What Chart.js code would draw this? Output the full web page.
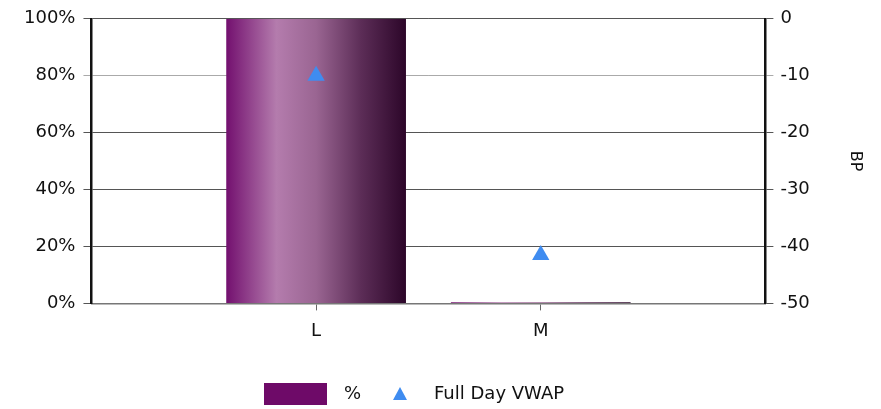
<!DOCTYPE html>
<html lang="en">
<head>
    <meta charset="UTF-8">
    <title>L / M - Full Day VWAP</title>
    <script src="https://cdn.jsdelivr.net/npm/chart.js"></script>
    <style>
        html, body {
            margin: 0;
            padding: 0;
            background: #fff;
        }
        #wrap {
            width: 881px;
            height: 409px;
        }
    </style>
</head>
<body>
    <div id="wrap"><canvas id="chart"></canvas></div>
    <script>
    // categories ('' pads the ends so L and M sit at 1/3 and 2/3)
    const categories = ['', 'L', 'M', ''];
    const pctValues = [null, 100, 0.4, null];
    const vwapValues = [null, -10, -41.5, null];
    const leftTicks = [0, 20, 40, 60, 80, 100];
    const rightTicks = [-50, -40, -30, -20, -10, 0];

    const FONT = "'DejaVu Sans', sans-serif";
    const BAR_SOLID = '#6e0a68';
    const TRI_BLUE = '#3f8cf0';
    const BAR_PCT = 0.8;

    function barGradient(context) {
        const chart = context.chart;
        const xs = chart.scales.x;
        if (!chart.chartArea || !xs) return BAR_SOLID;
        const step = xs.getPixelForValue(1) - xs.getPixelForValue(0);
        const w = step * BAR_PCT;
        const x0 = xs.getPixelForValue(context.dataIndex) - w / 2;
        const g = chart.ctx.createLinearGradient(x0, 0, x0 + w, 0);
        g.addColorStop(0, '#73106f');
        g.addColorStop(0.28, '#b47cad');
        g.addColorStop(0.5, '#9a6592');
        g.addColorStop(0.75, '#5c2d57');
        g.addColorStop(1, '#2c0629');
        return g;
    }

    // simple bottom legend: box for the bar, triangle for the points
    const bottomLegend = {
        id: 'bottomLegend',
        afterDraw(chart) {
            const ctx = chart.ctx;
            const y = 394;
            ctx.save();
            ctx.fillStyle = BAR_SOLID;
            ctx.fillRect(264, 383, 63, 22);
            ctx.font = '18px ' + FONT;
            ctx.fillStyle = '#111';
            ctx.textBaseline = 'middle';
            ctx.fillText(chart.data.datasets[0].label, 344, y);
            ctx.fillStyle = TRI_BLUE;
            ctx.beginPath();
            ctx.moveTo(400, y - 7);
            ctx.lineTo(407, y + 6);
            ctx.lineTo(393, y + 6);
            ctx.closePath();
            ctx.fill();
            ctx.fillStyle = '#111';
            ctx.fillText(chart.data.datasets[1].label, 434, y);
            ctx.restore();
        }
    };

    new Chart(document.getElementById('chart'), {
        data: {
            labels: categories,
            datasets: [
                {
                    type: 'bar',
                    label: '%',
                    data: pctValues,
                    yAxisID: 'y',
                    backgroundColor: barGradient,
                    borderWidth: 0,
                    categoryPercentage: 1,
                    barPercentage: BAR_PCT,
                    order: 2
                },
                {
                    type: 'line',
                    label: 'Full Day VWAP',
                    data: vwapValues,
                    yAxisID: 'y1',
                    showLine: false,
                    pointStyle: 'triangle',
                    pointRadius: 10,
                    pointHoverRadius: 10,
                    backgroundColor: TRI_BLUE,
                    borderColor: TRI_BLUE,
                    borderWidth: 0,
                    order: 1
                }
            ]
        },
        options: {
            responsive: true,
            maintainAspectRatio: false,
            animation: false,
            layout: { padding: { top: 6, left: 16, right: 16, bottom: 57 } },
            plugins: {
                legend: { display: false },
                tooltip: { enabled: false }
            },
            scales: {
                x: {
                    offset: false,
                    grid: {
                        offset: false,
                        drawOnChartArea: false,
                        drawTicks: true,
                        tickLength: 7,
                        color: (c) => (c.tick && categories[c.index] ? '#666' : 'rgba(0,0,0,0)')
                    },
                    border: { color: '#777', width: 1.5 },
                    ticks: {
                        padding: 10,
                        color: '#111',
                        font: { family: FONT, size: 18 }
                    }
                },
                y: {
                    position: 'left',
                    min: 0,
                    max: 100,
                    afterBuildTicks: (axis) => { axis.ticks = leftTicks.map(v => ({ value: v })); },
                    grid: {
                        color: (c) => (c.tick && c.tick.value === 80 ? '#aaa' : '#555'),
                        lineWidth: 1,
                        tickLength: 8
                    },
                    border: { color: '#111', width: 2.5 },
                    ticks: {
                        padding: 8,
                        color: '#111',
                        font: { family: FONT, size: 18 },
                        callback: (v) => v + '%'
                    }
                },
                y1: {
                    position: 'right',
                    min: -50,
                    max: 0,
                    afterBuildTicks: (axis) => { axis.ticks = rightTicks.map(v => ({ value: v })); },
                    grid: {
                        drawOnChartArea: false,
                        color: (c) => (c.tick && c.tick.value === -10 ? '#aaa' : '#555'),
                        tickLength: 8
                    },
                    border: { color: '#111', width: 2.5 },
                    ticks: {
                        padding: 7,
                        color: '#111',
                        font: { family: FONT, size: 18 }
                    },
                    title: {
                        display: true,
                        text: 'BP',
                        color: '#111',
                        padding: { top: 0, bottom: 29 },
                        font: { family: FONT, size: 16 }
                    }
                }
            }
        },
        plugins: [bottomLegend]
    });
    </script>
</body>
</html>
